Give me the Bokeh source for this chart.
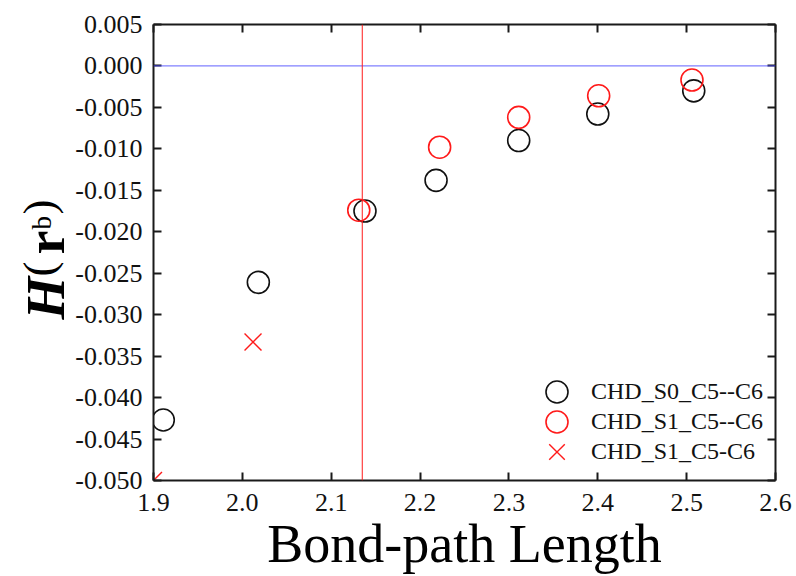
import math

from bokeh.plotting import figure
from bokeh.layouts import row
from bokeh.core.properties import value
from bokeh.models import (Range1d, LinearAxis, FixedTicker, NumeralTickFormatter,
                          Span, Legend, LegendItem)
from bokeh.embed import file_html
from bokeh.resources import INLINE

# Energy density H(r_b) at the C5-C6 bond critical point vs. bond-path length
s0_len = [1.911, 2.018, 2.138, 2.218, 2.311, 2.400, 2.508]
s0_h = [-0.0427, -0.0261, -0.0175, -0.0138, -0.0090, -0.0058, -0.0030]

s1_len = [2.131, 2.222, 2.311, 2.401, 2.506]
s1_h = [-0.0174, -0.0098, -0.0062, -0.0036, -0.0017]

s1_bond_len = [1.900, 2.012]
s1_bond_h = [-0.0500, -0.0333]

series_names = ["CHD_S0_C5--C6", "CHD_S1_C5--C6", "CHD_S1_C5-C6"]

crossing_len = 2.135   # vertical reference line
zero_h = 0.0           # horizontal reference line

x_ticks = [1.9, 2.0, 2.1, 2.2, 2.3, 2.4, 2.5, 2.6]
y_ticks = [-0.050, -0.045, -0.040, -0.035, -0.030, -0.025, -0.020,
           -0.015, -0.010, -0.005, 0.000, 0.005]

SERIF = "Liberation Serif"
W, H = 796, 576
TITLE_W = 72                     # narrow strip holding the rotated y title
FRAME_L, FRAME_T, FRAME_R, FRAME_B = 148, 24, 775, 484

# ---- main plot -------------------------------------------------------------
p = figure(width=W - TITLE_W, height=H,
           x_range=Range1d(x_ticks[0], x_ticks[-1]),
           y_range=Range1d(y_ticks[0], y_ticks[-1]),
           output_backend="svg", toolbar_location=None,
           min_border_left=FRAME_L - TITLE_W, min_border_top=FRAME_T,
           min_border_right=W - FRAME_R, min_border_bottom=H - FRAME_B)
p.outline_line_color = None
p.xgrid.visible = False
p.ygrid.visible = False
p.background_fill_color = "white"
p.border_fill_color = "white"


def style_axis(ax, ticks, fmt, standoff, show_labels):
    ax.ticker = FixedTicker(ticks=ticks)
    ax.formatter = NumeralTickFormatter(format=fmt)
    ax.axis_line_color = "#1a1a1a"
    ax.axis_line_width = 2
    ax.major_tick_line_color = "#1a1a1a"
    ax.major_tick_line_width = 2
    ax.major_tick_in = 8
    ax.major_tick_out = 0
    ax.minor_tick_line_color = None
    ax.major_label_text_font = SERIF
    ax.major_label_standoff = standoff
    if show_labels:
        ax.major_label_text_font_size = "26px"
        ax.major_label_text_color = "#111111"
    else:
        ax.major_label_text_font_size = "0px"
        ax.major_label_overrides = {t: "" for t in ticks}


bottom_axis = p.xaxis[0]
left_axis = p.yaxis[0]
style_axis(bottom_axis, x_ticks, "0.0", 13, True)
style_axis(left_axis, y_ticks, "0.000", 11, True)

top_axis = LinearAxis()
style_axis(top_axis, x_ticks, "0.0", 0, False)
p.add_layout(top_axis, "above")

right_axis = LinearAxis()
style_axis(right_axis, y_ticks, "0.000", 0, False)
p.add_layout(right_axis, "right")

bottom_axis.axis_label = "Bond-path Length"
bottom_axis.axis_label_text_font = SERIF
bottom_axis.axis_label_text_font_size = "54px"
bottom_axis.axis_label_text_font_style = "normal"
bottom_axis.axis_label_text_color = "black"
bottom_axis.axis_label_standoff = 0

# reference lines
p.add_layout(Span(location=zero_h, dimension="width", line_color="#4a4aff",
                  line_alpha=0.7, line_width=1.3))
p.add_layout(Span(location=crossing_len, dimension="height", line_color="#ff2020",
                  line_alpha=0.85, line_width=1.2))

# data series
r_s0 = p.scatter(s0_len, s0_h, marker="circle", size=22, fill_color=None,
                 line_color="#111111", line_width=1.6)
r_s1 = p.scatter(s1_len, s1_h, marker="circle", size=22, fill_color=None,
                 line_color="#ff1a1a", line_width=1.6)
r_s1b = p.scatter(s1_bond_len, s1_bond_h, marker="x", size=24,
                  line_color="#ff1a1a", line_width=1.4)

# one single-entry legend per row, so large keys can sit close together
rows = [(series_names[0], r_s0, 61), (series_names[1], r_s1, 31),
        (series_names[2], r_s1b, 1)]
for name, rend, bottom in rows:
    p.add_layout(Legend(
        items=[LegendItem(label=name, renderers=[rend])],
        location=(376, bottom), glyph_width=55, glyph_height=55,
        padding=0, margin=0, label_standoff=7,
        border_line_color=None, background_fill_alpha=0,
        label_text_font=SERIF, label_text_font_size="24px",
        label_text_color="#111111"))

# ---- rotated y-axis title  H (r_b) -------------------------------------------
# frame spans the same rows as the main plot; y data equals H - canvas row
t = figure(frame_width=TITLE_W, frame_height=FRAME_B - FRAME_T,
           x_range=Range1d(0, TITLE_W), y_range=Range1d(H - FRAME_B, H - FRAME_T),
           output_backend="svg", toolbar_location=None,
           x_axis_location=None, y_axis_location=None,
           min_border_left=0, min_border_right=0,
           min_border_top=FRAME_T, min_border_bottom=H - FRAME_B)
t.outline_line_color = None
t.xgrid.visible = False
t.ygrid.visible = False
t.background_fill_color = "white"
t.border_fill_color = "white"

title_pieces = [
    # text, start (from top), baseline x, size, style
    ("H", 319, 45, "55px", "bold italic"),
    ("(", 276, 38, "45px", "normal"),
    ("r", 254, 45, "54px", "bold"),
    ("b", 229, 41, "27px", "normal"),
    (")", 214, 38, "45px", "normal"),
]
for txt, cy, cx, size, style in title_pieces:
    t.text(x=[cx], y=[H - cy], text=[txt], angle=math.pi / 2,
           text_align="left", text_baseline="alphabetic",
           text_font=value(SERIF), text_font_size=value(size),
           text_font_style=style, text_color="black")

layout = row(t, p, spacing=0)
open("out.html", "w").write(file_html(layout, INLINE))
